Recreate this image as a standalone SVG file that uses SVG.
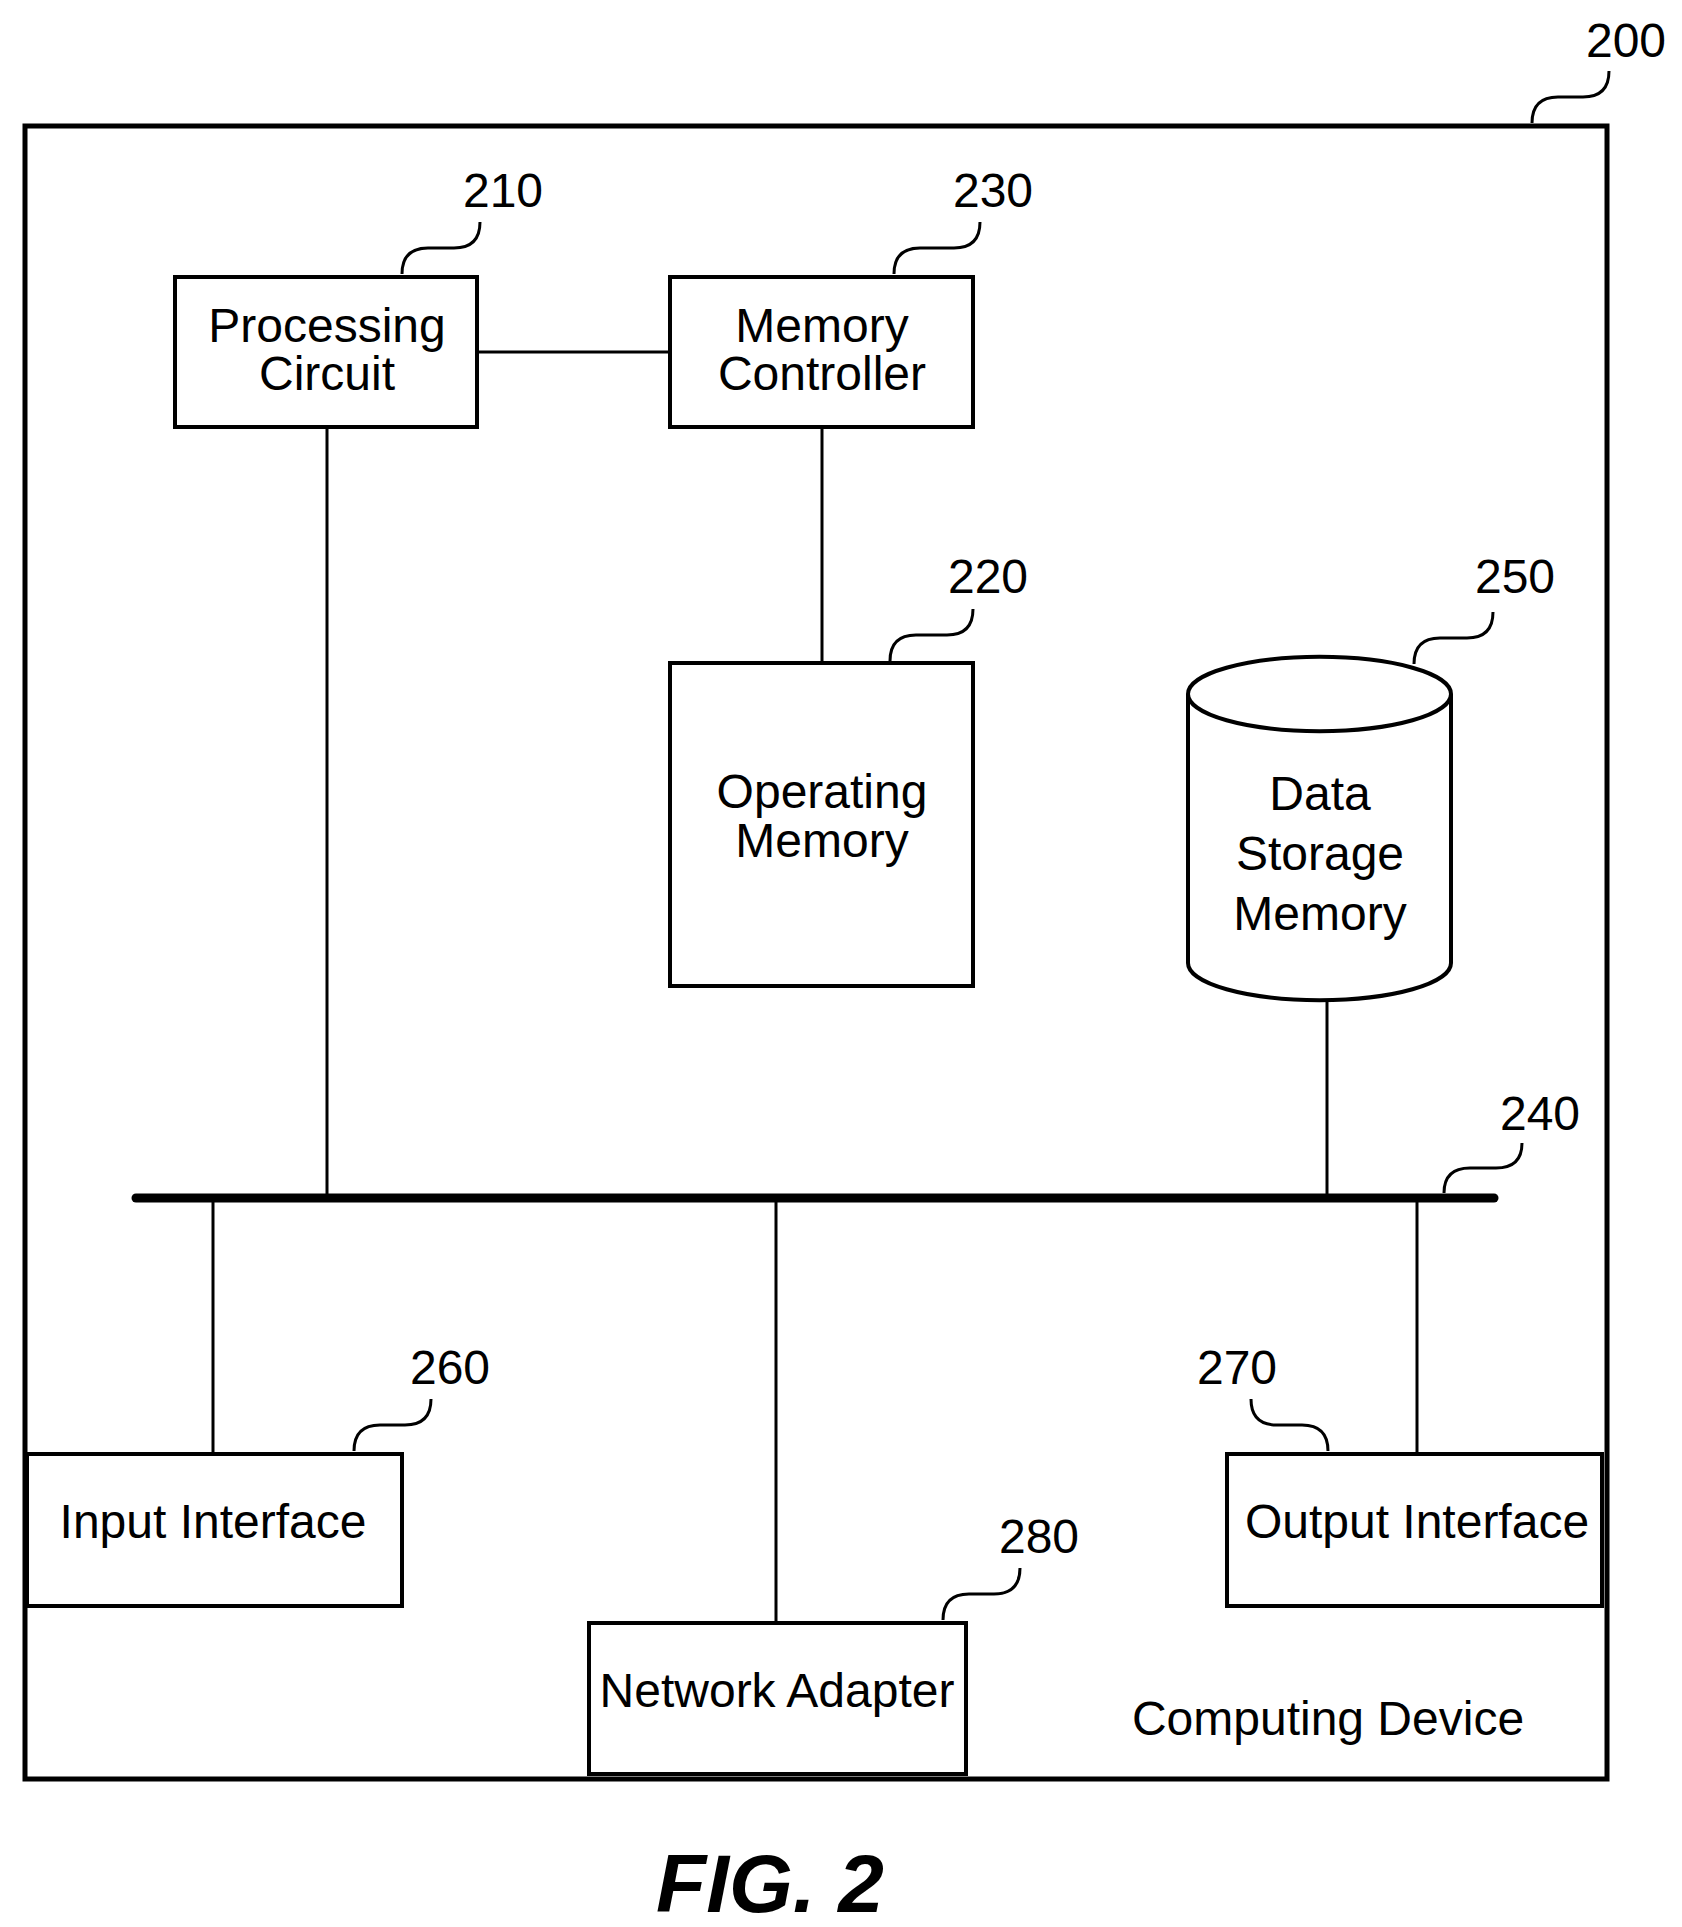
<svg xmlns="http://www.w3.org/2000/svg" width="1682" height="1927" viewBox="0 0 1682 1927">
<style>
.b{fill:#fff;stroke:#000;stroke-width:4}
.c{stroke:#000;stroke-width:3;fill:none}
.l{stroke:#000;stroke-width:3;fill:none}
text{font-family:"Liberation Sans",Arial,sans-serif;font-size:48px;fill:#000;text-anchor:middle}
</style>
<rect width="1682" height="1927" fill="#fff"/>
<g id="device"><rect x="25" y="126" width="1582" height="1653" fill="none" stroke="#000" stroke-width="5"/>
<text x="1328" y="1735">Computing Device</text></g>
<g id="connectors">
<line class="c" x1="477" y1="352" x2="670" y2="352"/>
<line class="c" x1="327" y1="427" x2="327" y2="1198"/>
<line class="c" x1="822" y1="427" x2="822" y2="663"/>
<line class="c" x1="1327" y1="1000" x2="1327" y2="1198"/>
<line class="c" x1="213" y1="1198" x2="213" y2="1454"/>
<line class="c" x1="776" y1="1198" x2="776" y2="1623"/>
<line class="c" x1="1417" y1="1198" x2="1417" y2="1454"/>
<line x1="136" y1="1198" x2="1494" y2="1198" stroke="#000" stroke-width="9" stroke-linecap="round"/>
</g>
<g id="n210"><rect class="b" x="175" y="277" width="302" height="150"/><text x="327" y="342">Processing</text><text x="327" y="390">Circuit</text></g>
<g id="n230"><rect class="b" x="670" y="277" width="303" height="150"/><text x="822" y="342">Memory</text><text x="822" y="390">Controller</text></g>
<g id="n220"><rect class="b" x="670" y="663" width="303" height="323"/><text x="822" y="808">Operating</text><text x="822" y="857">Memory</text></g>
<g id="n250"><path class="b" d="M1188,694 V963 A131,37 0 0 0 1451,963 V694 A131,37 0 0 0 1188,694 A131,37 0 0 0 1451,694"/>
<text x="1320" y="810">Data</text><text x="1320" y="870">Storage</text><text x="1320" y="930">Memory</text></g>
<g id="n260"><rect class="b" x="27" y="1454" width="375" height="152"/><text x="213" y="1538">Input Interface</text></g>
<g id="n270"><rect class="b" x="1227" y="1454" width="375" height="152"/><text x="1417" y="1538">Output Interface</text></g>
<g id="n280"><rect class="b" x="589" y="1623" width="377" height="151"/><text x="777" y="1707">Network Adapter</text></g>
<g id="labels">
<path class="l" d="M1532,123 q0,-26 26,-26 h25 q26,0 26,-26"/><text x="1626" y="57">200</text>
<path class="l" d="M402,274 q0,-26 26,-26 h26 q26,0 26,-26"/><text x="503" y="207">210</text>
<path class="l" d="M894,274 q0,-26 26,-26 h34 q26,0 26,-26"/><text x="993" y="207">230</text>
<path class="l" d="M890,661 q0,-26 26,-26 h31 q26,0 26,-26"/><text x="988" y="593">220</text>
<path class="l" d="M1414,664 q0,-26 26,-26 h27 q26,0 26,-26"/><text x="1515" y="593">250</text>
<path class="l" d="M1444,1193 q0,-25 26,-25 h26 q26,0 26,-25"/><text x="1540" y="1130">240</text>
<path class="l" d="M354,1451 q0,-26 26,-26 h25 q26,0 26,-26"/><text x="450" y="1384">260</text>
<path class="l" d="M1328,1451 q0,-26 -26,-26 h-25 q-26,0 -26,-26"/><text x="1237" y="1384">270</text>
<path class="l" d="M943,1620 q0,-26 26,-26 h25 q26,0 26,-26"/><text x="1039" y="1553">280</text>
</g>
<text x="770" y="1912" style="font-size:82px;font-weight:bold;font-style:italic">FIG. 2</text>
</svg>
